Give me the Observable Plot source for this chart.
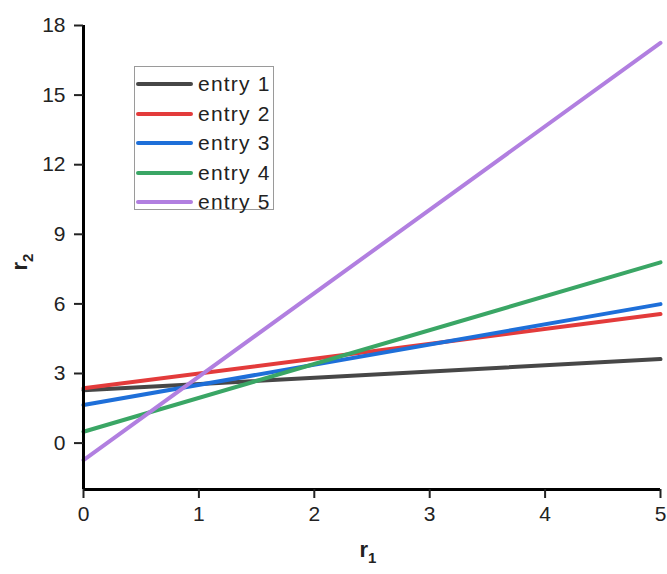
<!DOCTYPE html>
<html><head><meta charset="utf-8">
<script src="https://cdn.jsdelivr.net/npm/d3@7"></script>
<script src="https://cdn.jsdelivr.net/npm/@observablehq/plot@0.6"></script>
<style>
body{margin:0;background:#fff;font-family:"Liberation Sans",Arial,sans-serif}
#wrap{position:relative;width:667px;height:574px}
#legend{position:absolute;left:134px;top:66px;width:140px;height:144px;border:1px solid #9a9a9a;background:#fff;box-sizing:border-box}
.row{position:absolute;left:0;height:30px;display:flex;align-items:center}
.sw{width:57px;height:4px;border-radius:2px;margin-left:1px}
.lb{margin-left:5px;font-size:21px;letter-spacing:1.2px;color:#222;white-space:nowrap}
</style></head><body><div id="wrap"></div>
<script>
const entries = ["entry 1","entry 2","entry 3","entry 4","entry 5"];
const colors = ["#474747","#e33b3b","#1e6fd9","#3aa665","#b17fe0"];
const r1 = [0, 5];
const r2Start = [2.28, 2.36, 1.64, 0.49, -0.73];
const r2End = [3.62, 5.56, 5.99, 7.79, 17.25];
const xTicks = [0,1,2,3,4,5];
const yTicks = [0,3,6,9,12,15,18];

const data = [];
entries.forEach((e,i)=>{
  data.push({entry:e, x:r1[0], y:r2Start[i]});
  data.push({entry:e, x:r1[1], y:r2End[i]});
});

const plot = Plot.plot({
  width:667, height:574,
  marginLeft:83, marginRight:7, marginTop:25, marginBottom:85,
  style:{fontFamily:'"Liberation Sans",Arial,sans-serif', fontSize:"21px", color:"#222", background:"#fff", overflow:"visible"},
  x:{domain:[0,5], label:null},
  y:{domain:[-2,18], label:null},
  color:{domain:entries, range:colors},
  marks:[
    Plot.line(data,{x:"x", y:"y", z:"entry", stroke:"entry", strokeWidth:4}),
    Plot.ruleX([0],{stroke:"#000", strokeWidth:3, y1:-2, y2:18}),
    Plot.ruleY([-2],{stroke:"#000", strokeWidth:3, x1:0, x2:5}),
    Plot.axisX({ticks:xTicks, tickFormat:d3.format("d"), tickSize:9, strokeWidth:2, tickPadding:8, label:null, fontSize:21}),
    Plot.axisY({ticks:yTicks, tickFormat:d3.format("d"), tickSize:9, strokeWidth:2, tickPadding:9, label:null, fontSize:21})
  ]
});
const wrap = document.getElementById("wrap");
wrap.appendChild(plot);

const svg = d3.select(plot);
const xl = svg.append("text").attr("x",368).attr("y",557)
  .attr("font-size",22).attr("font-weight","bold").attr("fill","#222").attr("text-anchor","middle");
xl.append("tspan").text("r");
xl.append("tspan").attr("dy",6).attr("font-size",15).text("1");
const yl = svg.append("text").attr("transform","translate(27,262) rotate(-90)")
  .attr("font-size",22).attr("font-weight","bold").attr("fill","#222").attr("text-anchor","middle");
yl.append("tspan").text("r");
yl.append("tspan").attr("dy",6).attr("font-size",15).text("2");

const lg = document.createElement("div");
lg.id = "legend";
entries.forEach((e,i)=>{
  const row = document.createElement("div");
  row.className = "row";
  row.style.top = (2 + i*29.6) + "px";
  const sw = document.createElement("div");
  sw.className = "sw"; sw.style.background = colors[i];
  const lb = document.createElement("span");
  lb.className = "lb"; lb.textContent = e;
  row.appendChild(sw); row.appendChild(lb);
  lg.appendChild(row);
});
wrap.appendChild(lg);
</script></body></html>
